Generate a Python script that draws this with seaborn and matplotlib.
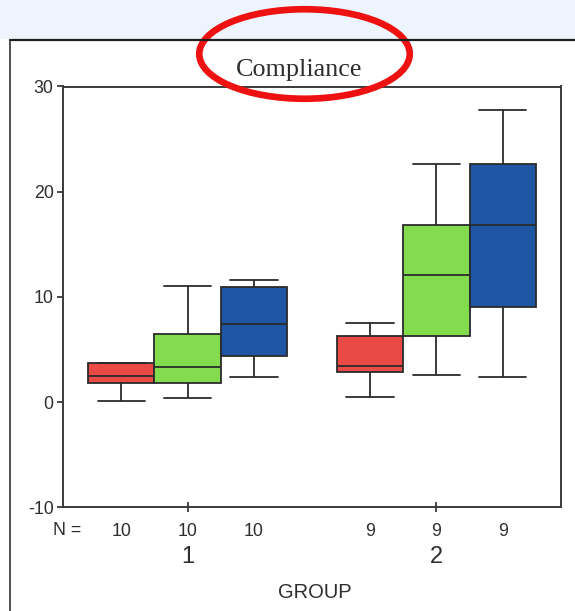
import matplotlib
matplotlib.use("Agg")
import matplotlib.pyplot as plt
from matplotlib.patches import Ellipse, Rectangle
from matplotlib.lines import Line2D
import pandas as pd
import seaborn as sns

# Groups on the x axis and the three arms within each group
groups = ["1", "2"]
arms = ["A", "B", "C"]
arm_colors = ["#ea4a45", "#82dc4e", "#1f56a3"]
n_group1 = [10, 10, 10]
n_group2 = [9, 9, 9]

# Five-number summaries: minimum, Q1, median, Q3, maximum
g1_a = [0.15, 1.8, 2.5, 3.7, 3.7]
g1_b = [0.4, 1.85, 3.3, 6.5, 11.0]
g1_c = [2.4, 4.4, 7.45, 10.95, 11.65]
g2_a = [0.45, 2.85, 3.4, 6.25, 7.55]
g2_b = [2.55, 6.25, 12.1, 16.8, 22.6]
g2_c = [2.4, 9.0, 16.8, 22.6, 27.75]

y_ticks = [-10, 0, 10, 20, 30]

summaries = {("1", "A"): g1_a, ("1", "B"): g1_b, ("1", "C"): g1_c,
             ("2", "A"): g2_a, ("2", "B"): g2_b, ("2", "C"): g2_c}
rows = [{"group": g, "arm": a, "value": v}
        for (g, a), vals in summaries.items() for v in vals]
df = pd.DataFrame(rows)

sns.set_theme(style="white")
plt.rcParams["font.family"] = ["Liberation Sans", "DejaVu Sans"]

W, H = 575, 611
fig = plt.figure(figsize=(W / 100, H / 100), dpi=100)
fig.patch.set_facecolor("white")

# main plotting area, placed in pixel units
left, right, top, bottom = 63.3, 560.7, 86.5, 507.3
ax = fig.add_axes([left / W, 1 - bottom / H, (right - left) / W, (bottom - top) / H])
ax.set_facecolor("white")

text_color = "#2e2e2e"
line_color = "#2b2b2b"

sns.boxplot(data=df, x="group", y="value", hue="arm",
            order=groups, hue_order=arms, palette=arm_colors,
            whis=(0, 100), width=0.8, gap=0, saturation=1,
            linewidth=1.3, linecolor=line_color, showfliers=False,
            capwidths=0.19, legend=False, ax=ax)

ax.set_xlim(-0.5, 1.5)
ax.set_ylim(-10, 30)
ax.set_yticks(y_ticks)
ax.set_yticklabels([str(t) for t in y_ticks], fontsize=12.8, color=text_color)
ax.set_xticks([0, 1])
ax.set_xticklabels([])
ax.set_xlabel("")
ax.set_ylabel("")
ax.tick_params(axis="y", left=True, direction="out", length=4, width=1.2,
               color=line_color, pad=3)
ax.tick_params(axis="x", bottom=True, direction="inout", length=7, width=1.2,
               color=line_color)
for s in ax.spines.values():
    s.set_visible(True)
    s.set_color("#3a3a3a")
    s.set_linewidth(1.4)

# overlay in pixel coordinates for the frame, counts, labels and highlight
ov = fig.add_axes([0, 0, 1, 1], zorder=10)
ov.set_xlim(0, W)
ov.set_ylim(H, 0)
ov.axis("off")
ov.patch.set_alpha(0)

ov.add_patch(Rectangle((0, 0), W, 38.5, facecolor="#eef4fd", edgecolor="none"))
ov.add_line(Line2D([10, W], [39.5, 39.5], color="#1e1e1e", lw=1.6))
ov.add_line(Line2D([10, 10], [39.5, H], color="#333333", lw=1.2))

ov.text(299, 76, "Compliance", family=["Liberation Serif", "DejaVu Serif"],
        fontsize=18.8, color=text_color, ha="center", va="baseline")

# sample sizes under each box
def px_x(xd):
    return left + (xd + 0.5) / 2.0 * (right - left)

offsets = [-0.8 / 3, 0.0, 0.8 / 3]
ov.text(67, 535, "N =", fontsize=12.8, color=text_color, ha="center", va="baseline")
for gi, counts in enumerate([n_group1, n_group2]):
    for off, n in zip(offsets, counts):
        ov.text(px_x(gi + off), 535.5, str(n), fontsize=12.8, color=text_color,
                ha="center", va="baseline")
    ov.text(px_x(gi), 563, groups[gi], fontsize=17, color=text_color,
            ha="center", va="baseline")

ov.text(315, 597.5, "GROUP", fontsize=14.5, color=text_color,
        ha="center", va="baseline")

ov.add_patch(Ellipse((304.5, 54), 210.5, 89.5, fill=False, edgecolor="#ee1111", lw=4.8))

fig.savefig("out.png", dpi=100)
